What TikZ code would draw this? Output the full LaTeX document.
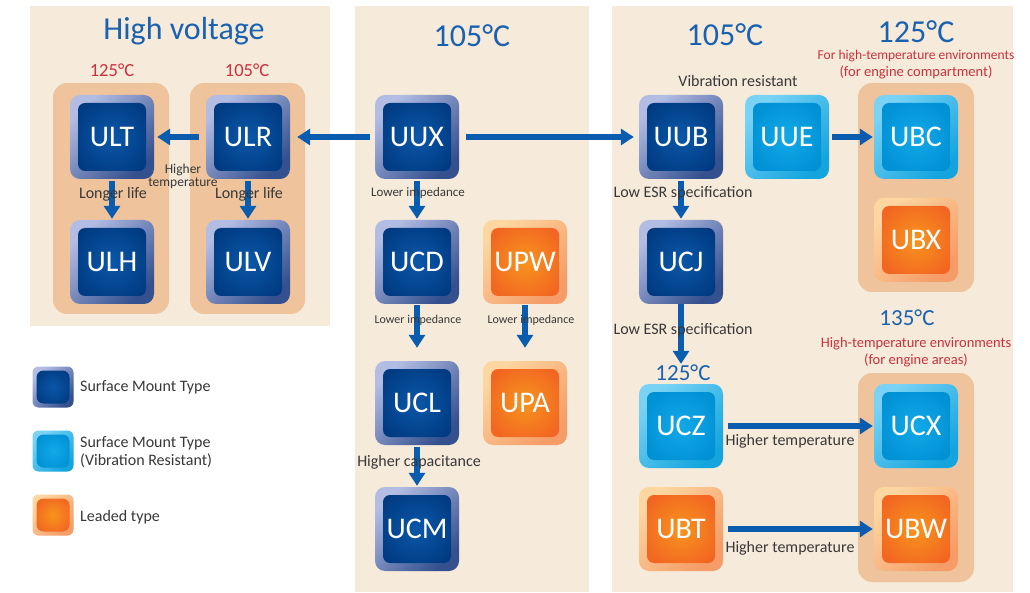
\documentclass[tikz,border=0pt]{standalone}
\usepackage{fontspec}
\setmainfont{Carlito}
\usetikzlibrary{arrows.meta}
\definecolor{panel}{HTML}{F6EADA}
\definecolor{group}{HTML}{EFC49C}
\definecolor{flow}{HTML}{0A5DAE}
\definecolor{heading}{HTML}{1A62B0}
\definecolor{warm}{HTML}{C8323F}
\definecolor{note}{HTML}{383838}
\definecolor{smdA}{HTML}{B3BDE4}
\definecolor{smdB}{HTML}{34508F}
\definecolor{smdC}{HTML}{0B57A8}
\definecolor{smdD}{HTML}{003B82}
\definecolor{vibA}{HTML}{7AD3F5}
\definecolor{vibB}{HTML}{14A5DF}
\definecolor{vibC}{HTML}{12A9E8}
\definecolor{vibD}{HTML}{0090D4}
\definecolor{leadA}{HTML}{FDD6A0}
\definecolor{leadB}{HTML}{F59C68}
\definecolor{leadC}{HTML}{F7941D}
\definecolor{leadD}{HTML}{F26522}
\tikzset{
  chipinset/.initial=8pt,
  chip/.style n args={4}{minimum size=84pt, inner sep=0pt, rounded corners=10pt,
    top color=#1, bottom color=#2, shading angle=45, text=white,
    font=\fontsize{30}{30}\selectfont,
    path picture={\shade[rounded corners=7pt, inner color=#3, outer color=#4]
      ([shift={(\pgfkeysvalueof{/tikz/chipinset},\pgfkeysvalueof{/tikz/chipinset})}]path picture bounding box.south west) rectangle
      ([shift={(-\pgfkeysvalueof{/tikz/chipinset},-\pgfkeysvalueof{/tikz/chipinset})}]path picture bounding box.north east);}},
  smd/.style={chip={smdA}{smdB}{smdC}{smdD}},
  vib/.style={chip={vibA}{vibB}{vibC}{vibD}},
  lead/.style={chip={leadA}{leadB}{leadC}{leadD}},
  key/.style={minimum size=41pt, rounded corners=6pt, chipinset=4pt},
  groupbg/.style={fill=group, rounded corners=14pt, inner sep=0pt},
  upgrade/.style={draw=flow, line width=5.5pt, -{Triangle[length=13pt,width=16pt]}},
  remark/.style={text=note, inner sep=1pt, font=\fontsize{16}{18}\selectfont},
  remarksm/.style={text=note, inner sep=1pt, align=center, font=\fontsize{13.5}{13}\selectfont},
  temp/.style={text=heading, inner sep=0pt, font=\fontsize{32}{32}\selectfont},
  tempsm/.style={text=heading, inner sep=0pt, font=\fontsize{23}{23}\selectfont},
  warmtemp/.style={text=warm, inner sep=0pt, font=\fontsize{18.5}{18.5}\selectfont},
  warmnote/.style={text=warm, inner sep=0pt, align=center, font=\fontsize{14.5}{17}\selectfont}
}
\begin{document}
\begin{tikzpicture}[x=1pt,y=-1pt]
\useasboundingbox (0,0) rectangle (1030,593);
\fill[white] (0,0) rectangle (1030,593);
\fill[panel] (30,6)  rectangle (330,326);
\fill[panel] (355,6) rectangle (589,592);
\fill[panel] (612,6) rectangle (1013,592);

\node[groupbg, minimum width=116pt, minimum height=231pt] (g125)  at (111,198.5)   {};
\node[groupbg, minimum width=115pt, minimum height=231pt] (g105)  at (247.5,198.5) {};
\node[groupbg, minimum width=116pt, minimum height=209pt] (gbc)   at (916,187.5)   {};
\node[groupbg, minimum width=116pt, minimum height=209pt] (gcx)   at (916,477.5)   {};

\node[smd]  (ult) at (112,137) {ULT};
\node[smd]  (ulr) at (248,137) {ULR};
\node[smd]  (ulh) at (112,262) {ULH};
\node[smd]  (ulv) at (248,262) {ULV};

\node[smd]  (uux) at (417,137) {UUX};
\node[smd]  (ucd) at (417,262) {UCD};
\node[smd]  (ucl) at (417,403) {UCL};
\node[smd]  (ucm) at (417,529) {UCM};
\node[lead] (upw) at (525,262) {UPW};
\node[lead] (upa) at (525,403) {UPA};

\node[smd]  (uub) at (681,137) {UUB};
\node[vib]  (uue) at (787,137) {UUE};
\node[vib]  (ubc) at (916,137) {UBC};
\node[lead] (ubx) at (916,240) {UBX};
\node[smd]  (ucj) at (681,262) {UCJ};
\node[vib]  (ucz) at (681,426) {UCZ};
\node[lead] (ubt) at (681,529) {UBT};
\node[vib]  (ucx) at (916,426) {UCX};
\node[lead] (ubw) at (916,529) {UBW};

\node[temp]     (thv)   at (184,31)  {High voltage};
\node[warmtemp] (tl125) at (112,70)  {125°C};
\node[warmtemp] (tl105) at (247,70)  {105°C};
\node[temp]     (tm105) at (472,36)  {105°C};
\node[temp]     (tr105) at (725,35)  {105°C};
\node[temp]     (tr125) at (916,32)  {125°C};
\node[warmnote] (nbc)   at (916,65)  {{\fontsize{13.5}{17}\selectfont For high-temperature environments}\\(for engine compartment)};
\node[tempsm]   (t125b) at (683,373) {125°C};
\node[tempsm]   (t135)  at (907,318) {135°C};
\node[warmnote] (ncx)   at (916,352) {High-temperature environments\\(for engine areas)};

\draw[upgrade, shorten <=7pt, shorten >=3pt]  (ulr) -- (ult);
\draw[upgrade, shorten <=5pt, shorten >=-8pt] (uux) -- (g105.east |- uux);
\draw[upgrade, shorten <=7pt, shorten >=5pt]  (uux) -- (uub);
\draw[upgrade, shorten <=3pt, shorten >=1pt]  (uue) -- (ubc);
\draw[upgrade, shorten <=2pt, shorten >=1pt]  (ult) -- (ulh);
\draw[upgrade, shorten <=2pt, shorten >=1pt]  (ulr) -- (ulv);
\draw[upgrade, shorten <=2pt, shorten >=1pt]  (uux) -- (ucd);
\draw[upgrade, shorten <=1pt, shorten >=13pt] (ucd) -- (ucl);
\draw[upgrade, shorten <=1pt, shorten >=13pt] (upw) -- (upa);
\draw[upgrade, shorten <=2pt, shorten >=1pt]  (ucl) -- (ucm);
\draw[upgrade, shorten <=2pt, shorten >=1pt]  (uub) -- (ucj);
\draw[upgrade, shorten >=1pt]                 (ucj) -- (ucj.south |- t125b.north);
\draw[upgrade, shorten <=5pt, shorten >=1pt]  (ucz) -- (ucx);
\draw[upgrade, shorten <=5pt, shorten >=1pt]  (ubt) -- (ubw);

\node[remarksm] (nht)  at (183,176) {Higher\\temperature};
\node[remark]   (nll1) at (113,194) {Longer life};
\node[remark]   (nll2) at (249,194) {Longer life};
\node[remark, font=\fontsize{13}{15}\selectfont] (nli1) at (418,193) {Lower impedance};
\node[remark, font=\fontsize{12}{14}\selectfont] (nli2) at (418,320) {Lower impedance};
\node[remark, font=\fontsize{12}{14}\selectfont] (nli3) at (531,320) {Lower impedance};
\node[remark]   (nhc)  at (419,462) {Higher capacitance};
\node[remark]   (nvr)  at (738,81)  {Vibration resistant};
\node[remark]   (nesr1) at (683,193) {Low ESR specification};
\node[remark]   (nesr2) at (683,330) {Low ESR specification};
\node[remark]   (nhtz) at (790,441) {Higher temperature};
\node[remark]   (nhtt) at (790,548) {Higher temperature};

\node[smd, key]  (ksmd)  at (53,387) {};
\node[vib, key]  (kvib)  at (53,451) {};
\node[lead, key] (klead) at (53,515) {};
\node[remark, anchor=west]             (tsmd)  at (79,387) {Surface Mount Type};
\node[remark, anchor=west, align=left] (tvib)  at (79,452) {Surface Mount Type\\(Vibration Resistant)};
\node[remark, anchor=west]             (tlead) at (79,517) {Leaded type};
\end{tikzpicture}
\end{document}
